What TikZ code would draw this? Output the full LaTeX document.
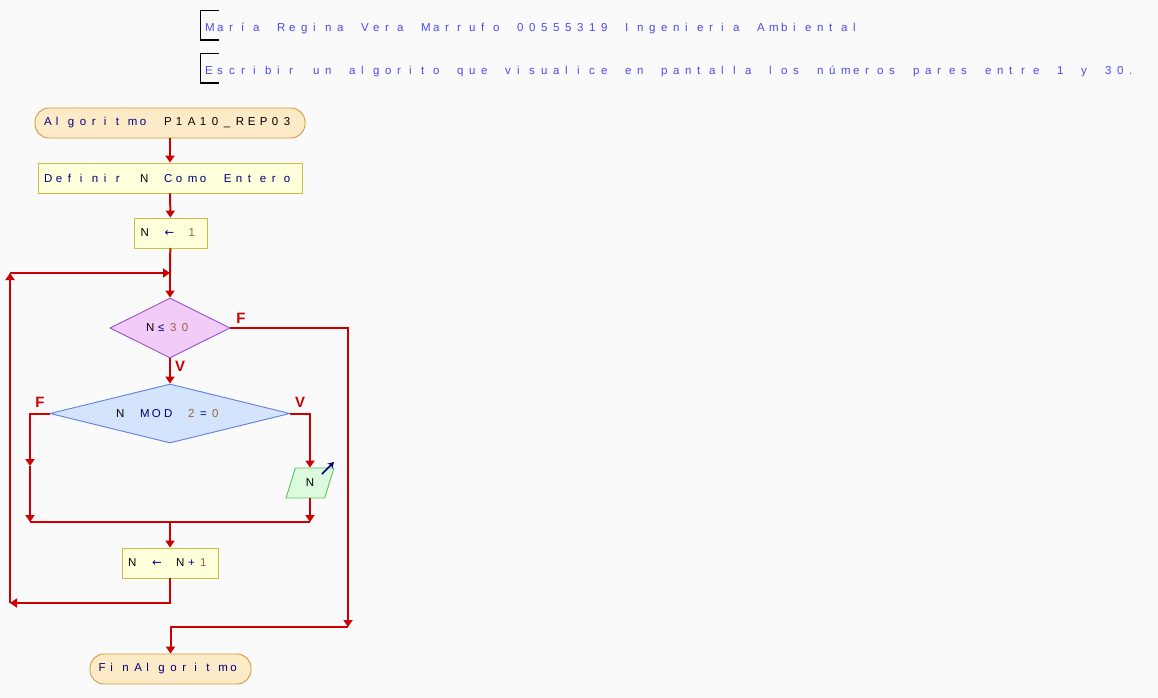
\documentclass[tikz,border=0pt]{standalone}
\usepackage{fontspec}
\setmainfont{Liberation Sans}
\newfontfamily\symfont{DejaVu Sans}
\usepackage{xcolor}
\usetikzlibrary{arrows.meta, positioning, calc, shapes.geometric}
\definecolor{bgcol}{HTML}{FAFAFA}
\definecolor{flowred}{HTML}{CC0000}
\definecolor{kwblue}{HTML}{000080}
\definecolor{numbrown}{HTML}{A0603C}
\definecolor{headblue}{HTML}{4A4AEE}
\definecolor{termfill}{HTML}{FDEBC8}
\definecolor{termedge}{HTML}{D09A40}
\definecolor{procfill}{HTML}{FFFFDC}
\definecolor{procedge}{HTML}{C8C040}
\definecolor{condfill}{HTML}{F2CCF8}
\definecolor{condedge}{HTML}{A050C8}
\definecolor{modfill}{HTML}{D4E4FC}
\definecolor{modedge}{HTML}{6080E0}
\definecolor{outfill}{HTML}{DCFADC}
\definecolor{outedge}{HTML}{60C060}

% every character in a cell of fixed width
\newlength{\cellw}\setlength{\cellw}{12pt}
\ExplSyntaxOn
\tl_new:N \l_cells_tl
\NewDocumentCommand{\cells}{m}
  {
    \tl_set:Nn \l_cells_tl {#1}
    \tl_replace_all:Nnn \l_cells_tl { ~ } { \relax }
    \tl_map_inline:Nn \l_cells_tl { \makebox[\cellw][l]{##1} }
  }
\ExplSyntaxOff
\newcommand{\tx}[1]{\cells{#1}}
\newcommand{\kw}[1]{\textcolor{kwblue}{\cells{#1}}}
\newcommand{\nm}[1]{\textcolor{numbrown}{\cells{#1}}}
\newcommand{\asg}{{\symfont ←}}

\begin{document}
\begin{tikzpicture}[x=1pt, y=-1pt,
  every node/.style={font=\fontsize{11.5}{13}\selectfont, inner sep=0pt},
  terminal/.style={rectangle, rounded corners=14pt, draw=termedge, fill=termfill, line width=0.9pt, minimum height=30pt},
  procbox/.style={rectangle, draw=procedge, fill=procfill, line width=0.9pt, minimum height=30pt},
  decision/.style={diamond, line width=0.9pt},
  iobox/.style={trapezium, trapezium left angle=71.6, trapezium right angle=108.4, trapezium stretches=true,
    draw=outedge, fill=outfill, line width=0.9pt, minimum width=48pt, minimum height=30pt},
  line/.style={draw=flowred, line width=2pt},
  flow/.style={line, -{Triangle[width=9pt,length=7pt]}},
  lbl/.style={font=\bfseries\fontsize{15}{17}\selectfont, text=flowred},
  header/.style={anchor=west, text=headblue}
]
  % page
  \fill[bgcol] (0,0) rectangle (1158,698);
  \useasboundingbox (0,0) rectangle (1158,698);

  % comments at the top
  \draw[black, line width=1.2pt] (219,10.5) -| (200.5,40) -- (219,40);
  \node[header] (head1) at (205,28) {\cells{María Regina Vera Marrufo 00555319 Ingenieria Ambiental}};
  \draw[black, line width=1.2pt] (219,53.5) -| (200.5,83) -- (219,83);
  \node[header] (head2) at (205,71) {\cells{Escribir un algorito que visualice en pantalla los números pares entre 1 y 30.}};

  % blocks
  \node[terminal, minimum width=270pt] (start) at (170,123) {\kw{Algoritmo }\tx{P1A10\_REP03}};
  \node[procbox, minimum width=264pt] (def) at (170,178) {\kw{Definir }\tx{N}\kw{ Como Entero}};
  \node[procbox, minimum width=73pt] (n1) at (170.5,233) {\tx{N }\kw{\asg}\tx{ }\nm{1}};
  \node[decision, aspect=2, draw=condedge, fill=condfill, minimum width=120pt, minimum height=60pt] (cond) at (170,328) {\tx{N}\kw{≤}\nm{30}};
  \node[decision, aspect=4, draw=modedge, fill=modfill, minimum width=240pt, minimum height=59pt] (mod) at (170,413.5) {\tx{N }\kw{MOD }\nm{2}\kw{=}\nm{0}};
  \node[iobox] (out) at (310,483) {N};
  \node[procbox, minimum width=96pt] (inc) at (170,563) {\tx{N }\kw{\asg}\tx{ N}\kw{+}\nm{1}};
  \node[terminal, minimum width=161pt] (fin) at (170.5,669) {\kw{FinAlgoritmo}};

  % corner points
  \coordinate (join) at (170,273);
  \coordinate (exit) at (348,627);
  \coordinate (lmid) at (30,466);
  \coordinate (lbot) at (30,522);
  \coordinate (rbot) at (310,522);
  \coordinate (merge) at (170,522);
  \coordinate (loopb) at (10,603);
  \coordinate (loopt) at (10,273);

  % connectors
  \draw[flow] (start) -- (def);
  \draw[flow] (def) -- (n1);
  \draw[line] (n1) -- (join);
  \draw[flow] (join) -- (cond);
  \draw[flow] (cond) -- (mod);
  \draw[flow] (cond.east) -| (exit);
  \draw[flow] (exit) -| (fin);
  \draw[flow] (mod.west) -| (lmid);
  \draw[flow] (lmid) -- (lbot);
  \draw[flow] (mod.east) -| (out);
  \draw[flow] (out) -- (rbot);
  \draw[line] (lbot) -- (rbot);
  \draw[flow] (merge) -- (inc);
  \draw[flow] (inc) |- (loopb);
  \draw[flow] (loopb) -- (loopt);
  \draw[flow] (loopt) -- (join);

  % output mark
  \draw[kwblue, line width=1.5pt, -{Stealth[length=6pt,width=7pt]}] ($(out.center)+(12,-9)$) -- ++(12,-12);

  % branch labels
  \node[lbl] (condF) at (241,318) {F};
  \node[lbl] (condV) at (180,366) {V};
  \node[lbl] (modF) at (40,402) {F};
  \node[lbl] (modV) at (300,402) {V};
\end{tikzpicture}
\end{document}
